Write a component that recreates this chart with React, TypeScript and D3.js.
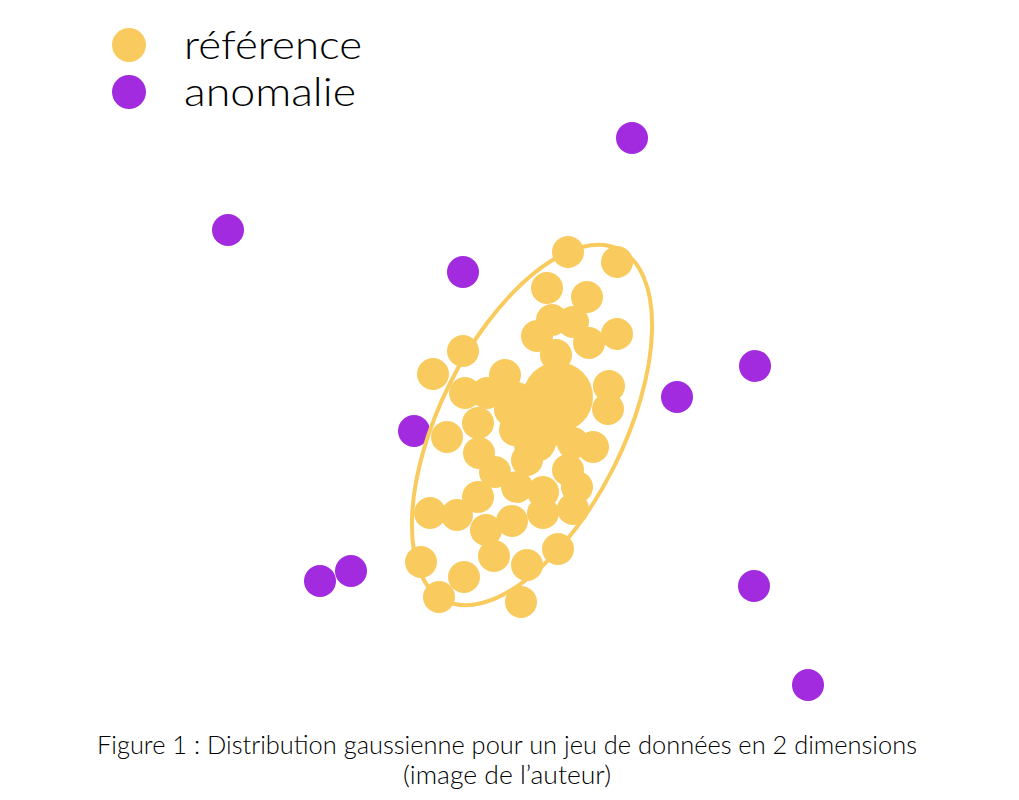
import * as d3 from "d3";
import React, { useRef, useEffect } from "react";

const W = 1019;
const H = 800;

// points in chart units (0..101.9 horizontally, 0..80 vertically, y downward)
const referenceX = [56.8, 61.7, 54.7, 58.7, 55.2, 57.3, 53.7, 58.9, 61.7, 46.3, 55.6, 43.3, 50.5, 60.9, 46.5, 48.7, 60.8, 47.8, 44.7, 59.3, 57.3, 47.9, 52.7, 49.5, 56.8, 57.7, 51.7, 54.3, 47.8, 43.0, 45.7, 57.3, 54.3, 51.2, 48.6, 49.4, 55.8, 52.7, 42.1, 46.4, 43.9, 52.1, 51.0, 51.5, 53.0, 54.0, 52.0];
const referenceY = [25.2, 26.2, 28.8, 29.7, 32.0, 32.2, 33.6, 34.3, 33.4, 35.1, 35.5, 37.4, 37.5, 38.6, 39.3, 39.3, 40.9, 42.3, 43.7, 44.7, 44.3, 45.3, 46.0, 47.2, 47.0, 48.7, 48.7, 49.2, 49.7, 51.3, 51.5, 50.9, 51.3, 52.1, 53.0, 55.6, 54.9, 56.5, 56.2, 57.7, 59.7, 60.2, 41.0, 43.0, 44.5, 43.0, 40.0];
const anomalyX = [63.2, 22.8, 46.3, 75.5, 67.7, 41.4, 35.1, 32.0, 75.4, 80.8];
const anomalyY = [13.8, 23.0, 27.2, 36.6, 39.7, 43.1, 57.1, 58.1, 58.6, 68.5];

// the dense core of the cloud (overlapping points)
const coreX = [55.8, 52.2, 53.6, 55.0, 51.6];
const coreY = [39.7, 42.0, 44.2, 42.5, 40.0];
const coreSize = [35, 22, 20, 22, 18];

const legendLabels = ["référence", "anomalie"];
const caption = [
  "Figure 1 : Distribution gaussienne pour un jeu de données en 2 dimensions",
  "(image de l’auteur)",
];

const yellow = "#F9CB5F";
const purple = "#A22ADF";

export default function App() {
  const ref = useRef<SVGSVGElement>(null);

  useEffect(() => {
    const svg = d3.select(ref.current);
    svg.selectAll("*").remove();

    const x = d3.scaleLinear().domain([0, 101.9]).range([0, W]);
    const y = d3.scaleLinear().domain([0, 80]).range([0, H]);

    const anomalies = d3.zip(anomalyX, anomalyY);
    const refs = d3.zip(referenceX, referenceY);
    const core = d3.zip(coreX, coreY, coreSize);

    // anomalies under the cluster
    svg
      .append("g")
      .selectAll("circle")
      .data(anomalies)
      .join("circle")
      .attr("cx", (d) => x(d[0]))
      .attr("cy", (d) => y(d[1]))
      .attr("r", 16)
      .attr("fill", purple);

    // 2-sigma ellipse
    svg
      .append("ellipse")
      .attr("cx", x(53.2))
      .attr("cy", y(42.5))
      .attr("rx", 92)
      .attr("ry", 196)
      .attr("transform", `rotate(26.5, ${x(53.2)}, ${y(42.5)})`)
      .attr("fill", "none")
      .attr("stroke", yellow)
      .attr("stroke-width", 4);

    const g = svg.append("g");
    g.selectAll("circle.pt")
      .data(refs)
      .join("circle")
      .attr("class", "pt")
      .attr("cx", (d) => x(d[0]))
      .attr("cy", (d) => y(d[1]))
      .attr("r", 16)
      .attr("fill", yellow);
    g.selectAll("circle.core")
      .data(core)
      .join("circle")
      .attr("class", "core")
      .attr("cx", (d) => x(d[0]))
      .attr("cy", (d) => y(d[1]))
      .attr("r", (d) => d[2])
      .attr("fill", yellow);

    // legend
    const legend = svg.append("g");
    legendLabels.forEach((label, i) => {
      legend
        .append("circle")
        .attr("cx", 129)
        .attr("cy", 45 + i * 47)
        .attr("r", 17)
        .attr("fill", i === 0 ? yellow : purple);
      legend
        .append("text")
        .attr("x", 184)
        .attr("y", 59 + i * 47)
        .attr("font-family", "Lato")
        .attr("font-weight", 300)
        .attr("font-size", 40)
        .attr("textLength", i === 0 ? 178 : 172)
        .attr("lengthAdjust", "spacingAndGlyphs")
        .attr("fill", "#000")
        .text(label);
    });

    // caption
    caption.forEach((line, i) => {
      svg
        .append("text")
        .attr("x", 507)
        .attr("y", 754 + i * 30)
        .attr("text-anchor", "middle")
        .attr("font-family", "Lato")
        .attr("font-weight", 300)
        .attr("font-size", 25)
        .attr("textLength", i === 0 ? 820 : 208)
        .attr("lengthAdjust", "spacingAndGlyphs")
        .attr("fill", "#000")
        .text(line);
    });
  }, []);

  return (
    <svg
      ref={ref}
      width={W}
      height={H}
      style={{ position: "absolute", left: 0, top: 0, background: "#fff" }}
    ></svg>
  );
}
